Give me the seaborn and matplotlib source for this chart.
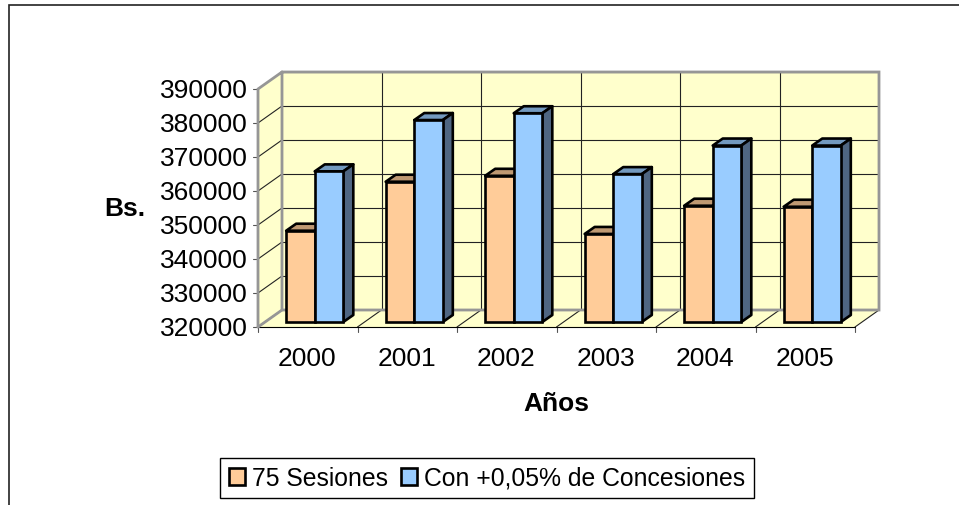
import matplotlib
matplotlib.use("Agg")
import matplotlib.pyplot as plt
from matplotlib.patches import Polygon, Rectangle
from matplotlib.lines import Line2D
import pandas as pd
import seaborn as sns

years = ["2000", "2001", "2002", "2003", "2004", "2005"]
sesiones = [346850, 361260, 363000, 345900, 354200, 353900]
concesiones = [364300, 379400, 381400, 363500, 371900, 371900]
serie_a = "75 Sesiones"
serie_b = "Con +0,05% de Concesiones"
yticks = [320000, 330000, 340000, 350000, 360000, 370000, 380000, 390000]

ORANGE, ORANGE_TOP, ORANGE_SIDE = "#FFCC99", "#BF9973", "#7F6650"
BLUE, BLUE_TOP, BLUE_SIDE = "#99CCFF", "#7399BF", "#4F6682"
WALL = "#FFFFCC"
FRAME = "#969696"
BAR_LW = 1.9

W, H = 959, 506
sns.set_theme(style="white")
plt.rcParams["font.family"] = ["Liberation Sans", "DejaVu Sans"]
plt.rcParams["text.color"] = "black"

fig = plt.figure(figsize=(W / 100, H / 100), dpi=100)
page = fig.add_axes([0, 0, 1, 1], zorder=0)
page.set_xlim(0, W); page.set_ylim(H, 0); page.axis("off")
page.plot([8.5, 8.5, 959], [506, 5.5, 5.5], color="#222222", lw=1.2, solid_capstyle="butt", solid_joinstyle="miter")

# the data axes is the plane of the bar fronts
x0, x1, ybase, ytop = 265.0, 862.0, 323.0, 85.0
ax = fig.add_axes([x0 / W, 1 - ybase / H, (x1 - x0) / W, (ybase - ytop) / H], zorder=1)
df = pd.DataFrame({
    "Año": years * 2,
    "Valor": sesiones + concesiones,
    "Serie": [serie_a] * len(years) + [serie_b] * len(years),
})
sns.barplot(data=df, x="Año", y="Valor", hue="Serie", palette=[ORANGE, BLUE],
            width=0.574, gap=0, edgecolor="black", linewidth=BAR_LW, saturation=1,
            legend=False, ax=ax, zorder=5)
ax.set_xlim(-0.5, len(years) - 0.5)
ax.set_ylim(yticks[0], yticks[-1])
ax.patch.set_alpha(0)
for s in ax.spines.values():
    s.set_visible(False)
ax.set_xticks([]); ax.set_yticks([])
ax.set_xlabel(""); ax.set_ylabel("")

ux = len(years) / (x1 - x0)                      # data units per pixel, x
uy = (yticks[-1] - yticks[0]) / (ybase - ytop)   # data units per pixel, y

def pt(dx_px, dy_px, cat=-0.5, val=yticks[0]):
    return (cat + dx_px * ux, val - dy_px * uy)

FRONT = (-7, 5)   # front floor edge, relative to bar plane
BACK = (17, -12)  # back wall, relative to bar plane
D = (10, -7)      # bar depth
n = len(years)
kw = dict(clip_on=False)

def seg(a, b, color="#222222", lw=0.8, z=2, **extra):
    ax.add_line(Line2D(*zip(a, b), color=color, lw=lw, zorder=z, **kw, **extra))

# walls
back = Polygon([pt(*BACK), pt(*BACK, val=yticks[-1]), pt(*BACK, cat=n - 0.5, val=yticks[-1]), pt(*BACK, cat=n - 0.5)],
               fc=WALL, ec="none", zorder=1, **kw)
side = Polygon([pt(*FRONT), pt(*FRONT, val=yticks[-1]), pt(*BACK, val=yticks[-1]), pt(*BACK)],
               fc=WALL, ec="none", zorder=1, **kw)
floor = Polygon([pt(*FRONT), pt(*BACK), pt(*BACK, cat=n - 0.5), pt(*FRONT, cat=n - 0.5)],
                fc=WALL, ec="none", zorder=1, **kw)
for p in (back, side, floor):
    ax.add_patch(p)

# gridlines and value labels
for v in yticks:
    if v != yticks[0]:
        seg(pt(*BACK, val=v), pt(*BACK, cat=n - 0.5, val=v))
    if v != yticks[-1]:
        seg(pt(*FRONT, val=v), pt(*BACK, val=v))
    seg(pt(FRONT[0] - 5, FRONT[1], val=v), pt(*FRONT, val=v), color="#555555")
    ax.text(*pt(FRONT[0] - 10, FRONT[1] + 1, val=v), str(v), ha="right", va="center", fontsize=19, color="black")
for i in range(n + 1):
    c = i - 0.5
    if i not in (0, n):
        seg(pt(*BACK, cat=c), pt(*BACK, cat=c, val=yticks[-1]))
    seg(pt(*FRONT, cat=c), pt(*BACK, cat=c))
    seg(pt(*FRONT, cat=c), pt(FRONT[0], FRONT[1] + 5, cat=c), color="#555555")
seg(pt(*FRONT), pt(*FRONT, cat=n - 0.5), color="black")

# grey wall frame
frame = [pt(*FRONT), pt(*FRONT, val=yticks[-1]), pt(*BACK, val=yticks[-1]),
         pt(*BACK, cat=n - 0.5, val=yticks[-1]), pt(*BACK, cat=n - 0.5), pt(*BACK), pt(*BACK, val=yticks[-1])]
ax.add_line(Line2D(*zip(*frame), color=FRAME, lw=2.0, zorder=3, solid_joinstyle="miter", **kw))
seg(pt(*BACK), pt(*FRONT), color=FRAME, lw=2.0, z=3)

# 3-D faces built from the seaborn bars
ddx, ddy = D[0] * ux, -D[1] * uy
for c_idx, cont in enumerate(ax.containers):
    base_z = 5 + c_idx * 3
    top_col = ORANGE_TOP if c_idx == 0 else BLUE_TOP
    side_col = ORANGE_SIDE if c_idx == 0 else BLUE_SIDE
    for bar in cont:
        xl, w, v = bar.get_x(), bar.get_width(), bar.get_height()
        xr, b = xl + w, yticks[0]
        bar.set_y(b)
        bar.set_height(v - b)
        bar.set_zorder(base_z + 1)
        bar.set_clip_on(False)
        ax.add_patch(Polygon([(xl, v), (xl + ddx, v + ddy), (xr + ddx, v + ddy), (xr, v)],
                             fc=top_col, ec="black", lw=BAR_LW, zorder=base_z, joinstyle="round", **kw))
        ax.add_patch(Polygon([(xr, b), (xr + ddx, b + ddy), (xr + ddx, v + ddy), (xr, v)],
                             fc=side_col, ec="black", lw=BAR_LW, zorder=base_z, joinstyle="round", **kw))

# category labels and titles (figure pixels)
for i, y in enumerate(years):
    page.text(257.5 + 99.5 * (i + 0.5), 359, y, ha="center", va="center", fontsize=19, color="black")
page.text(556.5, 404.5, "Años", ha="center", va="center", fontsize=19, fontweight="bold", color="black")
page.text(125, 208.5, "Bs.", ha="center", va="center", fontsize=19, fontweight="bold", color="black")

# legend
leg = [Rectangle((0, 0), 1, 1, fc=ORANGE, ec="black", lw=BAR_LW),
       Rectangle((0, 0), 1, 1, fc=BLUE, ec="black", lw=BAR_LW)]
fig.legend(leg, [serie_a, serie_b], loc="center", bbox_to_anchor=(487 / W, 1 - 479 / H),
           ncol=2, fontsize=17.8, frameon=True, fancybox=False, edgecolor="black", framealpha=1,
           labelcolor="black", handlelength=0.65, handleheight=0.65, handletextpad=0.3,
           columnspacing=0.5, borderpad=0.34, borderaxespad=0)

fig.savefig("out.png", dpi=100)
